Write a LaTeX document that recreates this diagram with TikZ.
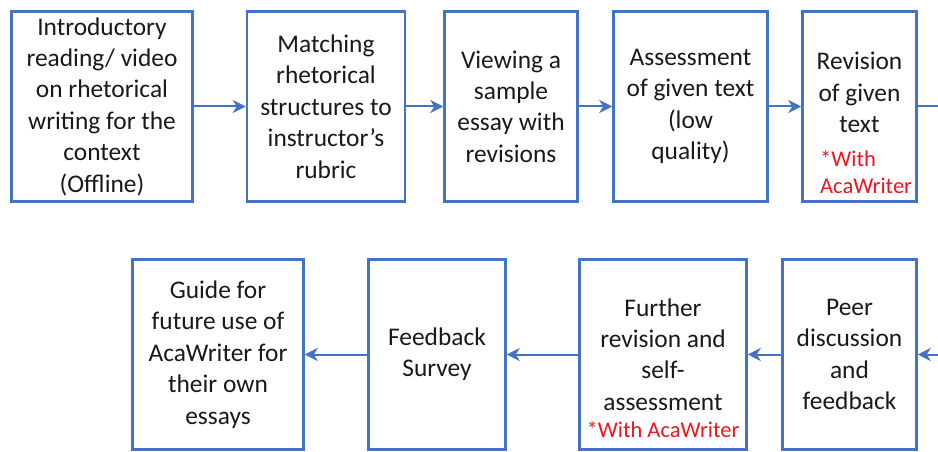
\documentclass[tikz,border=0pt]{standalone}
\usepackage{fontspec}
\setmainfont{Carlito}
\usepackage{tikz}
\usetikzlibrary{arrows.meta}
\definecolor{boxblue}{RGB}{68,114,196}
\definecolor{notered}{RGB}{240,20,30}
\tikzset{stagetext/.style={align=center, inner sep=0pt, text=black!90,
    font=\fontsize{25.4}{31.4}\selectfont}}
\tikzset{stage/.style={stagetext, draw=boxblue, line width=2.5pt,
    minimum height=190pt}}
\tikzset{flow/.style={draw=boxblue, line width=2pt,
    -{Stealth[length=13pt,width=13pt,inset=4pt]}}}
\tikzset{note/.style={text=notered, inner sep=0pt,
    font=\fontsize{22.5}{27}\selectfont}}

\begin{document}
\begin{tikzpicture}[x=1pt,y=-1pt]
        \useasboundingbox (0,0) rectangle (938,452);

            \node[stage, minimum width=181pt] (b1) at (102,106.5) {Introductory\\reading/ video\\on rhetorical\\writing for the\\context\\(Offline)};
            \node[stage, minimum width=158pt] (b2) at (326,106.5) {Matching\\rhetorical\\structures to\\instructor’s\\rubric};
            \node[stage, minimum width=133pt] (b3) at (511,106.5) {Viewing a\\sample\\essay with\\revisions};
            \node[stage, minimum width=154pt] (b4) at (690.5,106.5) {Assessment\\of given text\\(low\\quality)};
            \node[stage, minimum width=114pt] (b5) at (859.5,106.5) {};
            \node[stagetext, anchor=north] (b5text) at (859.5,52) {Revision\\of given\\text};
            \node[note, align=left, anchor=south west] (b5note) at (820,194) {*With\\AcaWriter};
            \coordinate (out) at (938,106.5);

            \node[stage, minimum width=134pt] (c4) at (849.5,354.5) {Peer\\discussion\\and\\feedback};
            \node[stage, minimum width=167pt] (c3) at (663,354.5) {Further\\revision and\\self-\\assessment};
            \node[note, anchor=base] (c3note) at (663,437) {*With AcaWriter};
            \node[stage, minimum width=137pt] (c2) at (437,354.5) {Feedback\\Survey};
            \node[stage, minimum width=171pt] (c1) at (218,354.5) {Guide for\\future use of\\AcaWriter for\\their own\\essays};
            \coordinate (in) at (938,354.5);

            \draw[flow] (b1) -- (b2);
            \draw[flow] (b2) -- (b3);
            \draw[flow] (b3) -- (b4);
            \draw[flow] (b4) -- (b5);
            \draw[draw=boxblue, line width=2pt] (b5) -- (out);
            \draw[flow] (in) -- (c4);
            \draw[flow] (c4) -- (c3);
            \draw[flow] (c3) -- (c2);
            \draw[flow] (c2) -- (c1);

        \end{tikzpicture}
\end{document}
